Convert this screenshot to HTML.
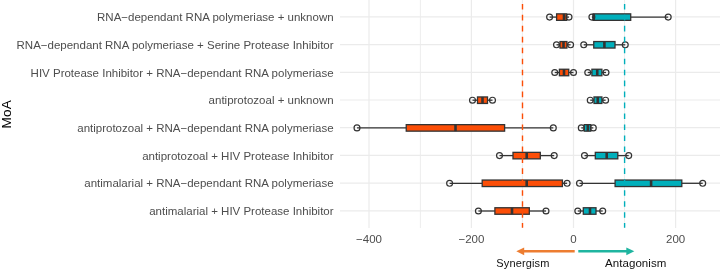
<!DOCTYPE html>
<html><head><meta charset="utf-8"><title>MoA</title>
<style>html,body{margin:0;padding:0;background:#fff}svg{display:block}text{font-family:"Liberation Sans",Arial,sans-serif}</style></head><body>
<svg width="720" height="270" viewBox="0 0 720 270">
<rect width="720" height="270" fill="#fff"/>
<g stroke="#ebebeb" stroke-width="1" fill="none">
<line x1="420.4" y1="0" x2="420.4" y2="228" stroke-width="0.9"/>
<line x1="522.4" y1="0" x2="522.4" y2="228" stroke-width="0.9"/>
<line x1="624.5" y1="0" x2="624.5" y2="228" stroke-width="0.9"/>
<line x1="369.0" y1="0" x2="369.0" y2="228" stroke-width="1.2"/>
<line x1="471.4" y1="0" x2="471.4" y2="228" stroke-width="1.2"/>
<line x1="573.5" y1="0" x2="573.5" y2="228" stroke-width="1.2"/>
<line x1="675.6" y1="0" x2="675.6" y2="228" stroke-width="1.2"/>
<line x1="340" y1="16.9" x2="720" y2="16.9" stroke-width="1.2"/>
<line x1="340" y1="44.6" x2="720" y2="44.6" stroke-width="1.2"/>
<line x1="340" y1="72.3" x2="720" y2="72.3" stroke-width="1.2"/>
<line x1="340" y1="100.0" x2="720" y2="100.0" stroke-width="1.2"/>
<line x1="340" y1="127.7" x2="720" y2="127.7" stroke-width="1.2"/>
<line x1="340" y1="155.4" x2="720" y2="155.4" stroke-width="1.2"/>
<line x1="340" y1="183.1" x2="720" y2="183.1" stroke-width="1.2"/>
<line x1="340" y1="210.8" x2="720" y2="210.8" stroke-width="1.2"/>
</g>
<g stroke="#333333" stroke-width="1.3"><line x1="549.6" y1="17.099999999999998" x2="556.6" y2="17.099999999999998"/><line x1="566.8" y1="17.099999999999998" x2="569.0" y2="17.099999999999998"/><rect x="556.6" y="13.85" width="10.20" height="6.5" fill="#FC4E07"/><line x1="564.0" y1="13.85" x2="564.0" y2="20.35" stroke-width="2.6"/><circle cx="549.6" cy="17.099999999999998" r="2.95" fill="none" stroke-width="1.2"/><circle cx="569.0" cy="17.099999999999998" r="2.95" fill="none" stroke-width="1.2"/></g>
<g stroke="#333333" stroke-width="1.3"><line x1="591.9" y1="17.099999999999998" x2="593.2" y2="17.099999999999998"/><line x1="630.7" y1="17.099999999999998" x2="668.2" y2="17.099999999999998"/><rect x="593.2" y="13.85" width="37.50" height="6.5" fill="#00AFBB"/><line x1="593.6" y1="13.85" x2="593.6" y2="20.35" stroke-width="2.6"/><circle cx="591.9" cy="17.099999999999998" r="2.95" fill="none" stroke-width="1.2"/><circle cx="668.2" cy="17.099999999999998" r="2.95" fill="none" stroke-width="1.2"/></g>
<g stroke="#333333" stroke-width="1.3"><line x1="556.5" y1="44.800000000000004" x2="560.0" y2="44.800000000000004"/><line x1="566.9" y1="44.800000000000004" x2="570.6" y2="44.800000000000004"/><rect x="560.0" y="41.55" width="6.90" height="6.5" fill="#FC4E07"/><line x1="563.5" y1="41.55" x2="563.5" y2="48.05" stroke-width="2.6"/><circle cx="556.5" cy="44.800000000000004" r="2.95" fill="none" stroke-width="1.2"/><circle cx="570.6" cy="44.800000000000004" r="2.95" fill="none" stroke-width="1.2"/></g>
<g stroke="#333333" stroke-width="1.3"><line x1="583.75" y1="44.800000000000004" x2="593.75" y2="44.800000000000004"/><line x1="615.0" y1="44.800000000000004" x2="625.25" y2="44.800000000000004"/><rect x="593.75" y="41.55" width="21.25" height="6.5" fill="#00AFBB"/><line x1="604.4" y1="41.55" x2="604.4" y2="48.05" stroke-width="2.6"/><circle cx="583.75" cy="44.800000000000004" r="2.95" fill="none" stroke-width="1.2"/><circle cx="625.25" cy="44.800000000000004" r="2.95" fill="none" stroke-width="1.2"/></g>
<g stroke="#333333" stroke-width="1.3"><line x1="554.75" y1="72.5" x2="559.4" y2="72.5"/><line x1="568.75" y1="72.5" x2="573.5" y2="72.5"/><rect x="559.4" y="69.25" width="9.35" height="6.5" fill="#FC4E07"/><line x1="564.0" y1="69.25" x2="564.0" y2="75.75" stroke-width="2.6"/><circle cx="554.75" cy="72.5" r="2.95" fill="none" stroke-width="1.2"/><circle cx="573.5" cy="72.5" r="2.95" fill="none" stroke-width="1.2"/></g>
<g stroke="#333333" stroke-width="1.3"><line x1="587.75" y1="72.5" x2="591.9" y2="72.5"/><line x1="601.9" y1="72.5" x2="606.0" y2="72.5"/><rect x="591.9" y="69.25" width="10.00" height="6.5" fill="#00AFBB"/><line x1="597.25" y1="69.25" x2="597.25" y2="75.75" stroke-width="2.6"/><circle cx="587.75" cy="72.5" r="2.95" fill="none" stroke-width="1.2"/><circle cx="606.0" cy="72.5" r="2.95" fill="none" stroke-width="1.2"/></g>
<g stroke="#333333" stroke-width="1.3"><line x1="472.5" y1="100.2" x2="477.5" y2="100.2"/><line x1="487.5" y1="100.2" x2="492.5" y2="100.2"/><rect x="477.5" y="96.95" width="10.00" height="6.5" fill="#FC4E07"/><line x1="482.5" y1="96.95" x2="482.5" y2="103.45" stroke-width="2.6"/><circle cx="472.5" cy="100.2" r="2.95" fill="none" stroke-width="1.2"/><circle cx="492.5" cy="100.2" r="2.95" fill="none" stroke-width="1.2"/></g>
<g stroke="#333333" stroke-width="1.3"><line x1="590.25" y1="100.2" x2="594.0" y2="100.2"/><line x1="601.9" y1="100.2" x2="605.6" y2="100.2"/><rect x="594.0" y="96.95" width="7.90" height="6.5" fill="#00AFBB"/><line x1="597.75" y1="96.95" x2="597.75" y2="103.45" stroke-width="2.6"/><circle cx="590.25" cy="100.2" r="2.95" fill="none" stroke-width="1.2"/><circle cx="605.6" cy="100.2" r="2.95" fill="none" stroke-width="1.2"/></g>
<g stroke="#333333" stroke-width="1.3"><line x1="357.0" y1="127.9" x2="406.25" y2="127.9"/><line x1="504.6" y1="127.9" x2="553.3" y2="127.9"/><rect x="406.25" y="124.65" width="98.35" height="6.5" fill="#FC4E07"/><line x1="455.5" y1="124.65" x2="455.5" y2="131.15" stroke-width="2.6"/><circle cx="357.0" cy="127.9" r="2.95" fill="none" stroke-width="1.2"/><circle cx="553.3" cy="127.9" r="2.95" fill="none" stroke-width="1.2"/></g>
<g stroke="#333333" stroke-width="1.3"><line x1="581.3" y1="127.9" x2="584.2" y2="127.9"/><line x1="590.8" y1="127.9" x2="593.3" y2="127.9"/><rect x="584.2" y="124.65" width="6.60" height="6.5" fill="#00AFBB"/><line x1="587.8" y1="124.65" x2="587.8" y2="131.15" stroke-width="2.6"/><circle cx="581.3" cy="127.9" r="2.95" fill="none" stroke-width="1.2"/><circle cx="593.3" cy="127.9" r="2.95" fill="none" stroke-width="1.2"/></g>
<g stroke="#333333" stroke-width="1.3"><line x1="499.5" y1="155.6" x2="513.0" y2="155.6"/><line x1="540.3" y1="155.6" x2="554.2" y2="155.6"/><rect x="513.0" y="152.35" width="27.30" height="6.5" fill="#FC4E07"/><line x1="526.7" y1="152.35" x2="526.7" y2="158.85" stroke-width="2.6"/><circle cx="499.5" cy="155.6" r="2.95" fill="none" stroke-width="1.2"/><circle cx="554.2" cy="155.6" r="2.95" fill="none" stroke-width="1.2"/></g>
<g stroke="#333333" stroke-width="1.3"><line x1="584.5" y1="155.6" x2="595.3" y2="155.6"/><line x1="617.8" y1="155.6" x2="628.7" y2="155.6"/><rect x="595.3" y="152.35" width="22.50" height="6.5" fill="#00AFBB"/><line x1="606.7" y1="152.35" x2="606.7" y2="158.85" stroke-width="2.6"/><circle cx="584.5" cy="155.6" r="2.95" fill="none" stroke-width="1.2"/><circle cx="628.7" cy="155.6" r="2.95" fill="none" stroke-width="1.2"/></g>
<g stroke="#333333" stroke-width="1.3"><line x1="449.6" y1="183.29999999999998" x2="482.2" y2="183.29999999999998"/><line x1="562.4" y1="183.29999999999998" x2="567.1" y2="183.29999999999998"/><rect x="482.2" y="180.05" width="80.20" height="6.5" fill="#FC4E07"/><line x1="526.7" y1="180.05" x2="526.7" y2="186.55" stroke-width="2.6"/><circle cx="449.6" cy="183.29999999999998" r="2.95" fill="none" stroke-width="1.2"/><circle cx="567.1" cy="183.29999999999998" r="2.95" fill="none" stroke-width="1.2"/></g>
<g stroke="#333333" stroke-width="1.3"><line x1="579.5" y1="183.29999999999998" x2="615.1" y2="183.29999999999998"/><line x1="681.8" y1="183.29999999999998" x2="702.7" y2="183.29999999999998"/><rect x="615.1" y="180.05" width="66.70" height="6.5" fill="#00AFBB"/><line x1="651.1" y1="180.05" x2="651.1" y2="186.55" stroke-width="2.6"/><circle cx="579.5" cy="183.29999999999998" r="2.95" fill="none" stroke-width="1.2"/><circle cx="702.7" cy="183.29999999999998" r="2.95" fill="none" stroke-width="1.2"/></g>
<g stroke="#333333" stroke-width="1.3"><line x1="478.4" y1="211.0" x2="494.9" y2="211.0"/><line x1="529.3" y1="211.0" x2="546.0" y2="211.0"/><rect x="494.9" y="207.75" width="34.40" height="6.5" fill="#FC4E07"/><line x1="512.0" y1="207.75" x2="512.0" y2="214.25" stroke-width="2.6"/><circle cx="478.4" cy="211.0" r="2.95" fill="none" stroke-width="1.2"/><circle cx="546.0" cy="211.0" r="2.95" fill="none" stroke-width="1.2"/></g>
<g stroke="#333333" stroke-width="1.3"><line x1="577.8" y1="211.0" x2="583.3" y2="211.0"/><line x1="596.0" y1="211.0" x2="602.7" y2="211.0"/><rect x="583.3" y="207.75" width="12.70" height="6.5" fill="#00AFBB"/><line x1="590.0" y1="207.75" x2="590.0" y2="214.25" stroke-width="2.6"/><circle cx="577.8" cy="211.0" r="2.95" fill="none" stroke-width="1.2"/><circle cx="602.7" cy="211.0" r="2.95" fill="none" stroke-width="1.2"/></g>
<line x1="522.5" y1="3.9" x2="522.5" y2="227.8" stroke="#FC4E07" stroke-width="1.4" stroke-dasharray="5.6 5.36"/>
<line x1="624.6" y1="3.9" x2="624.6" y2="227.8" stroke="#00AFBB" stroke-width="1.4" stroke-dasharray="5.6 5.36"/>
<g font-size="11.5" fill="#4d4d4d" text-anchor="end">
<text x="333.6" y="21.25">RNA−dependant RNA polymeriase + unknown</text>
<text x="333.6" y="48.95">RNA−dependant RNA polymeriase + Serine Protease Inhibitor</text>
<text x="333.6" y="76.65">HIV Protease Inhibitor + RNA−dependant RNA polymeriase</text>
<text x="333.6" y="104.35">antiprotozoal + unknown</text>
<text x="333.6" y="132.05">antiprotozoal + RNA−dependant RNA polymeriase</text>
<text x="333.6" y="159.75">antiprotozoal + HIV Protease Inhibitor</text>
<text x="333.6" y="187.45">antimalarial + RNA−dependant RNA polymeriase</text>
<text x="333.6" y="215.15">antimalarial + HIV Protease Inhibitor</text>
</g>
<g font-size="11.5" fill="#4d4d4d" text-anchor="middle">
<text x="369.0" y="242.9">−400</text>
<text x="471.4" y="242.9">−200</text>
<text x="573.5" y="242.9">0</text>
<text x="675.6" y="242.9">200</text>
</g>
<text transform="translate(10.6,114.3) rotate(-90)" font-size="13.7" fill="#000" text-anchor="middle">MoA</text>
<g><line x1="522" y1="251.3" x2="574.7" y2="251.3" stroke="#ED7D31" stroke-width="2.5"/><polygon points="516.3,251.3 524.2,247.4 524.2,255.2" fill="#ED7D31"/></g>
<g><line x1="578.3" y1="251.3" x2="628" y2="251.3" stroke="#1FB5A0" stroke-width="2.5"/><polygon points="634.3,251.3 626.3,247.4 626.3,255.2" fill="#1FB5A0"/></g>
<text x="496.3" y="266.7" font-size="11" fill="#111" textLength="53" lengthAdjust="spacing">Synergism</text>
<text x="604.9" y="266.7" font-size="11.5" fill="#111" textLength="61.5" lengthAdjust="spacing">Antagonism</text>
</svg></body></html>
